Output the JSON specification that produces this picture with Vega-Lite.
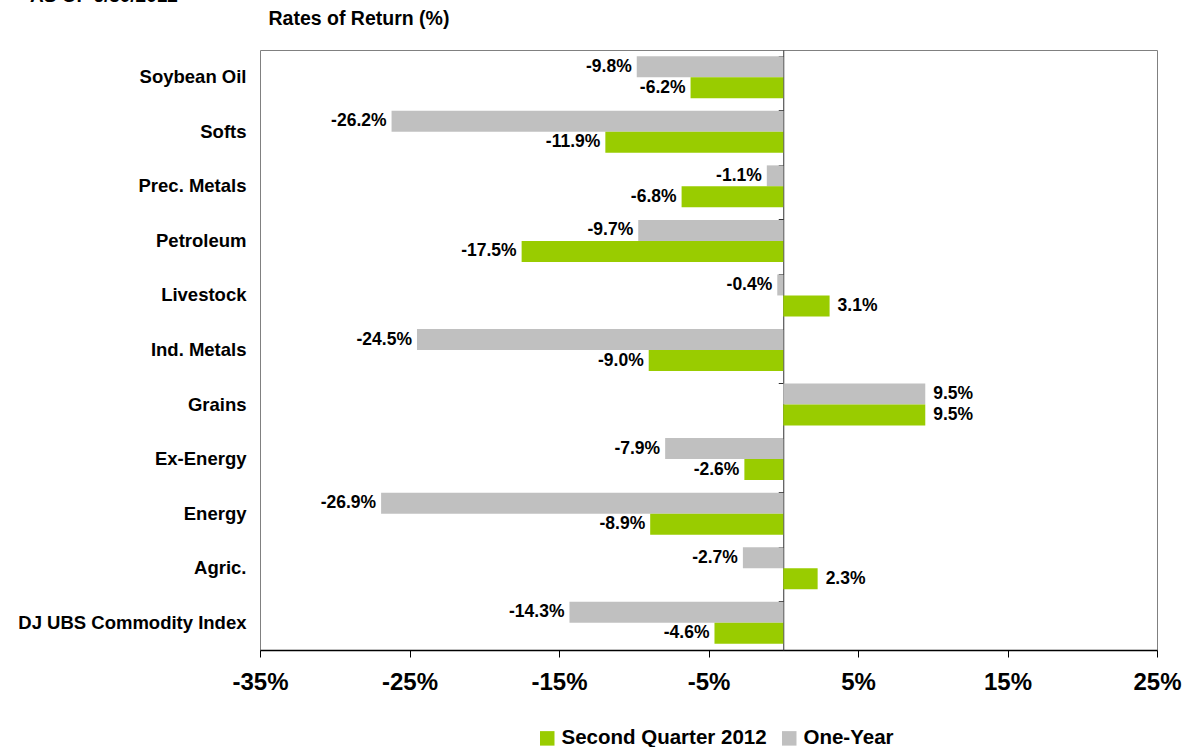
{
  "$schema": "https://vega.github.io/schema/vega-lite/v6.json",
  "autosize": {"type": "none"},
  "padding": {"left": 260, "top": 50, "right": 29, "bottom": 97},
  "width": 897,
  "height": 600,
  "background": "white",
  "config": {
    "font": "Liberation Sans",
    "view": {"stroke": "#808080", "strokeWidth": 1},
    "axis": {"grid": false}
  },
  "title": {
    "text": "AS OF 6/30/2012",
    "anchor": "start",
    "frame": "group",
    "dx": -230,
    "offset": 2,
    "fontSize": 19,
    "fontWeight": "bold",
    "color": "black",
    "font": "Liberation Sans"
  },
  "data": {
    "values": [
      {"category": "Soybean Oil", "series": "One-Year", "value": -9.8},
      {"category": "Soybean Oil", "series": "Second Quarter 2012", "value": -6.2},
      {"category": "Softs", "series": "One-Year", "value": -26.2},
      {"category": "Softs", "series": "Second Quarter 2012", "value": -11.9},
      {"category": "Prec. Metals", "series": "One-Year", "value": -1.1},
      {"category": "Prec. Metals", "series": "Second Quarter 2012", "value": -6.8},
      {"category": "Petroleum", "series": "One-Year", "value": -9.7},
      {"category": "Petroleum", "series": "Second Quarter 2012", "value": -17.5},
      {"category": "Livestock", "series": "One-Year", "value": -0.4},
      {"category": "Livestock", "series": "Second Quarter 2012", "value": 3.1},
      {"category": "Ind. Metals", "series": "One-Year", "value": -24.5},
      {"category": "Ind. Metals", "series": "Second Quarter 2012", "value": -9.0},
      {"category": "Grains", "series": "One-Year", "value": 9.5},
      {"category": "Grains", "series": "Second Quarter 2012", "value": 9.5},
      {"category": "Ex-Energy", "series": "One-Year", "value": -7.9},
      {"category": "Ex-Energy", "series": "Second Quarter 2012", "value": -2.6},
      {"category": "Energy", "series": "One-Year", "value": -26.9},
      {"category": "Energy", "series": "Second Quarter 2012", "value": -8.9},
      {"category": "Agric.", "series": "One-Year", "value": -2.7},
      {"category": "Agric.", "series": "Second Quarter 2012", "value": 2.3},
      {"category": "DJ UBS Commodity Index", "series": "One-Year", "value": -14.3},
      {"category": "DJ UBS Commodity Index", "series": "Second Quarter 2012", "value": -4.6}
    ]
  },
  "transform": [
    {"calculate": "(datum.value < 0 ? '-' : '') + format(abs(datum.value), '.1f') + '%'", "as": "label"}
  ],
  "resolve": {"axis": {"x": "independent", "y": "independent"}},
  "layer": [
    {
      "mark": {"type": "bar"},
      "encoding": {
        "y": {
          "field": "category",
          "type": "nominal",
          "sort": null,
          "scale": {"paddingInner": 0.23, "paddingOuter": 0.115},
          "axis": {
            "title": null,
            "domain": false,
            "ticks": false,
            "labelPadding": 14,
            "labelLimit": 300,
            "labelFontSize": 18.5,
            "labelFontWeight": "bold",
            "labelColor": "black",
            "labelFont": "Liberation Sans"
          }
        },
        "yOffset": {
          "field": "series",
          "type": "nominal",
          "sort": ["One-Year", "Second Quarter 2012"]
        },
        "x": {
          "field": "value",
          "type": "quantitative",
          "scale": {"domain": [-35, 25], "nice": false, "zero": false},
          "axis": {
            "title": null,
            "values": [-35, -25, -15, -5, 5, 15, 25],
            "labelExpr": "datum.value + '%'",
            "labelFlush": false,
            "domainColor": "black",
            "domainWidth": 1.5,
            "tickColor": "black",
            "tickSize": 7,
            "labelPadding": 13,
            "labelFontSize": 24,
            "labelFontWeight": "bold",
            "labelColor": "black",
            "labelFont": "Liberation Sans"
          }
        },
        "color": {
          "field": "series",
          "type": "nominal",
          "scale": {"domain": ["Second Quarter 2012", "One-Year"], "range": ["#99CC00", "#C0C0C0"]},
          "legend": {
            "title": null,
            "orient": "none",
            "direction": "horizontal",
            "legendX": 277,
            "legendY": 678,
            "symbolType": "square",
            "symbolSize": 210,
            "symbolStrokeWidth": 0,
            "labelFontSize": 20.5,
            "labelFontWeight": "bold",
            "labelColor": "black",
            "labelFont": "Liberation Sans",
            "labelLimit": 400,
            "columnPadding": 12,
            "labelOffset": 4
          }
        }
      }
    },
    {
      "transform": [{"filter": "datum.value < 0"}],
      "mark": {"type": "text", "align": "right", "baseline": "middle", "dx": -5, "fontSize": 17.5, "fontWeight": "bold", "color": "black", "font": "Liberation Sans"},
      "encoding": {
        "y": {"field": "category", "type": "nominal", "sort": null, "axis": null},
        "yOffset": {"field": "series", "type": "nominal", "sort": ["One-Year", "Second Quarter 2012"]},
        "x": {"field": "value", "type": "quantitative", "axis": null},
        "text": {"field": "label"}
      }
    },
    {
      "transform": [{"filter": "datum.value >= 0"}],
      "mark": {"type": "text", "align": "left", "baseline": "middle", "dx": 8, "fontSize": 17.5, "fontWeight": "bold", "color": "black", "font": "Liberation Sans"},
      "encoding": {
        "y": {"field": "category", "type": "nominal", "sort": null, "axis": null},
        "yOffset": {"field": "series", "type": "nominal", "sort": ["One-Year", "Second Quarter 2012"]},
        "x": {"field": "value", "type": "quantitative", "axis": null},
        "text": {"field": "label"}
      }
    },
    {
      "mark": {"type": "text", "text": ""},
      "encoding": {
        "y": {
          "field": "category",
          "type": "nominal",
          "sort": null,
          "axis": {
            "orient": "right",
            "title": null,
            "labels": false,
            "ticks": true,
            "bandPosition": 0,
            "tickSize": -5,
            "tickColor": "#333333",
            "domain": true,
            "domainColor": "#333333",
            "domainWidth": 1,
            "offset": -373.75
          }
        },
        "x": {
          "datum": 0,
          "type": "quantitative",
          "axis": {
            "orient": "top",
            "title": "Rates of Return (%)",
            "labels": false,
            "ticks": false,
            "domain": false,
            "titleAnchor": "start",
            "titleAlign": "left",
            "titleX": 8,
            "titlePadding": 22,
            "titleFontSize": 19.5,
            "titleFontWeight": "bold",
            "titleColor": "black",
            "titleFont": "Liberation Sans"
          }
        }
      }
    }
  ]
}
